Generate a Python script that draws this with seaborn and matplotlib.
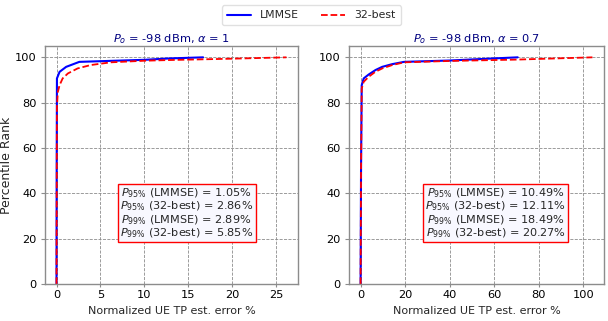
import matplotlib
matplotlib.use("Agg")
import matplotlib.pyplot as plt
import seaborn as sns
import pandas as pd

# Left panel (alpha = 1): CDF points (error %, percentile rank)
left_lmmse_x = [0, 0.02, 0.05, 0.35, 1.1, 2.6, 5, 10, 12.8, 16.7]
left_lmmse_y = [0, 50, 90.7, 93.6, 95.8, 98.0, 98.3, 98.9, 99.5, 100]
left_best_x = [0, 0.05, 0.15, 0.35, 0.7, 1.3, 2.4, 3.9, 6.2, 10, 12.8, 20, 26.2]
left_best_y = [0, 78, 84.7, 87.7, 90.7, 92.9, 95.1, 96.6, 97.8, 98.5, 98.8, 99.4, 100]

# Right panel (alpha = 0.7)
right_lmmse_x = [0, 0.2, 0.5, 1.4, 3.6, 6.7, 9.7, 14.2, 19.5, 40, 55, 70.5]
right_lmmse_y = [0, 50, 87.7, 90.7, 92.4, 94.4, 95.8, 97.0, 98.0, 98.6, 99.3, 100]
right_best_x = [0, 0.2, 0.5, 1.4, 3.6, 6.6, 9.7, 14.2, 19.6, 40, 70, 104]
right_best_y = [0, 50, 86.2, 89.2, 91.4, 93.6, 95.1, 96.6, 97.8, 98.4, 99.0, 100]

titles = [r"$P_o$ = -98 dBm, $\alpha$ = 1", r"$P_o$ = -98 dBm, $\alpha$ = 0.7"]
stats_left = ["1.05%", "2.86%", "2.89%", "5.85%"]
stats_right = ["10.49%", "12.11%", "18.49%", "20.27%"]
series_names = ["LMMSE", "32-best"]

sns.set_style("whitegrid")
plt.rcParams['font.family'] = ['DejaVu Sans']

fig = plt.figure(figsize=(6.08, 3.21), dpi=100)
ax1 = fig.add_axes([45/608, 37/321, 253/608, 238/321])
ax2 = fig.add_axes([349/608, 37/321, 255/608, 238/321])

panels = [
    (ax1, left_lmmse_x, left_lmmse_y, left_best_x, left_best_y, stats_left, 0.56, [0, 5, 10, 15, 20, 25]),
    (ax2, right_lmmse_x, right_lmmse_y, right_best_x, right_best_y, stats_right, 0.575, [0, 20, 40, 60, 80, 100]),
]

for i, (ax, lx, ly, bx, by, st, bxpos, xt) in enumerate(panels):
    df_l = pd.DataFrame({"x": lx, "y": ly})
    df_b = pd.DataFrame({"x": bx, "y": by})
    sns.lineplot(data=df_l, x="x", y="y", ax=ax, color="blue", lw=1.5,
                 sort=False, estimator=None, label=series_names[0] if i == 0 else None)
    sns.lineplot(data=df_b, x="x", y="y", ax=ax, color="red", lw=1.3, linestyle="--",
                 sort=False, estimator=None, label=series_names[1] if i == 0 else None)
    if ax.get_legend() is not None:
        ax.get_legend().remove()
    ax.set_ylim(0, 105)
    ax.set_yticks([0, 20, 40, 60, 80, 100])
    ax.set_xticks(xt)
    ax.grid(True, linestyle="--", color="0.55", linewidth=0.6)
    for sp in ax.spines.values():
        sp.set_color("0.55")
        sp.set_linewidth(1.0)
    ax.tick_params(axis="x", labelsize=8.2, length=2.5, width=0.8, pad=1.5, color="0.55",
                   bottom=True, labelcolor="black")
    ax.tick_params(axis="y", labelsize=8.2, length=3, width=0.8, pad=3, color="0.55",
                   left=True, labelcolor="black")
    ax.set_xlabel("Normalized UE TP est. error %", fontsize=8, labelpad=5)
    ax.set_ylabel("Percentile Rank" if i == 0 else "", fontsize=9)
    ax.set_title(titles[i], fontsize=8.2, color="navy", pad=3)
    txt = "\n".join([
        r"$P_{95\%}$ (LMMSE) = " + st[0],
        r"$P_{95\%}$ (32-best) = " + st[1],
        r"$P_{99\%}$ (LMMSE) = " + st[2],
        r"$P_{99\%}$ (32-best) = " + st[3],
    ])
    ax.text(bxpos, 0.297, txt, transform=ax.transAxes, ha="center", va="center",
            fontsize=8.1, linespacing=0.98,
            bbox=dict(boxstyle="square,pad=0.2", facecolor="#f8f8ff", edgecolor="red", linewidth=1.0))

ax1.yaxis.set_label_coords(-0.128, 0.5)

handles, labels = ax1.get_legend_handles_labels()
fig.legend(handles, labels, loc="upper center", bbox_to_anchor=(0.512, 1.0), ncol=2,
           fontsize=7.8, frameon=True, handlelength=2.2, handletextpad=0.9, columnspacing=2.0,
           borderpad=0.45, edgecolor="0.85")

fig.savefig("out.png", dpi=100)
